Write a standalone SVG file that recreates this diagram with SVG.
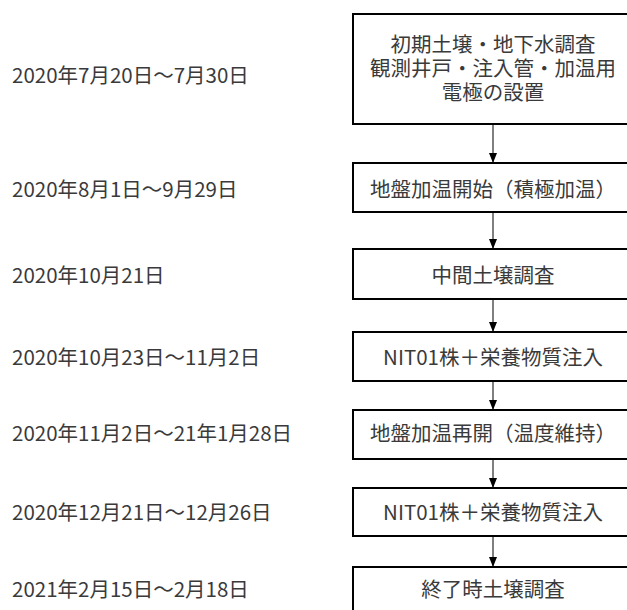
<svg xmlns="http://www.w3.org/2000/svg" width="627" height="610" viewBox="0 0 627 610">
<defs>
<style>
.box{fill:#fff;stroke:#000;stroke-width:2}
.t{font-family:"Noto Sans CJK JP","Noto Sans",sans-serif;font-size:20.5px;fill:#3a3a3a}
.c{text-anchor:middle}
.con{stroke:#000;stroke-width:1;fill:none;marker-end:url(#ah)}
</style>
<marker id="ah" markerWidth="10" markerHeight="8" refX="10" refY="4" orient="auto" markerUnits="userSpaceOnUse">
<path d="M0,0 L10,4 L0,8 Z" fill="#000"/>
</marker>
</defs>
<rect width="627" height="610" fill="#fff"/>
<g id="dates">
<text class="t" x="12" y="83">2020年7月20日～7月30日</text>
<text class="t" x="12" y="197">2020年8月1日～9月29日</text>
<text class="t" x="12" y="283">2020年10月21日</text>
<text class="t" x="12" y="365">2020年10月23日～11月2日</text>
<text class="t" x="12" y="441">2020年11月2日～21年1月28日</text>
<text class="t" x="12" y="520">2020年12月21日～12月26日</text>
<text class="t" x="12" y="597">2021年2月15日～2月18日</text>
</g>
<g id="connectors">
<line class="con" x1="493" y1="124" x2="493" y2="163"/>
<line class="con" x1="493" y1="212" x2="493" y2="249"/>
<line class="con" x1="493" y1="299" x2="493" y2="332"/>
<line class="con" x1="493" y1="381" x2="493" y2="410"/>
<line class="con" x1="493" y1="459" x2="493" y2="488"/>
<line class="con" x1="493" y1="536" x2="493" y2="567"/>
</g>
<g id="n1"><rect class="box" x="353" y="14" width="280" height="110"/>
<text class="t c" x="493" y="52">初期土壌・地下水調査</text>
<text class="t c" x="493" y="76">観測井戸・注入管・加温用</text>
<text class="t c" x="493" y="100">電極の設置</text></g>
<g id="n2"><rect class="box" x="353" y="163" width="280" height="49"/>
<text class="t c" x="493" y="197">地盤加温開始（積極加温）</text></g>
<g id="n3"><rect class="box" x="353" y="249" width="280" height="50"/>
<text class="t c" x="493" y="283">中間土壌調査</text></g>
<g id="n4"><rect class="box" x="353" y="332" width="280" height="49"/>
<text class="t c" x="493" y="365">NIT01株＋栄養物質注入</text></g>
<g id="n5"><rect class="box" x="353" y="410" width="280" height="49"/>
<text class="t c" x="493" y="441">地盤加温再開（温度維持）</text></g>
<g id="n6"><rect class="box" x="353" y="488" width="280" height="48"/>
<text class="t c" x="493" y="520">NIT01株＋栄養物質注入</text></g>
<g id="n7"><rect class="box" x="353" y="567" width="280" height="60"/>
<text class="t c" x="493" y="597">終了時土壌調査</text></g>
</svg>
